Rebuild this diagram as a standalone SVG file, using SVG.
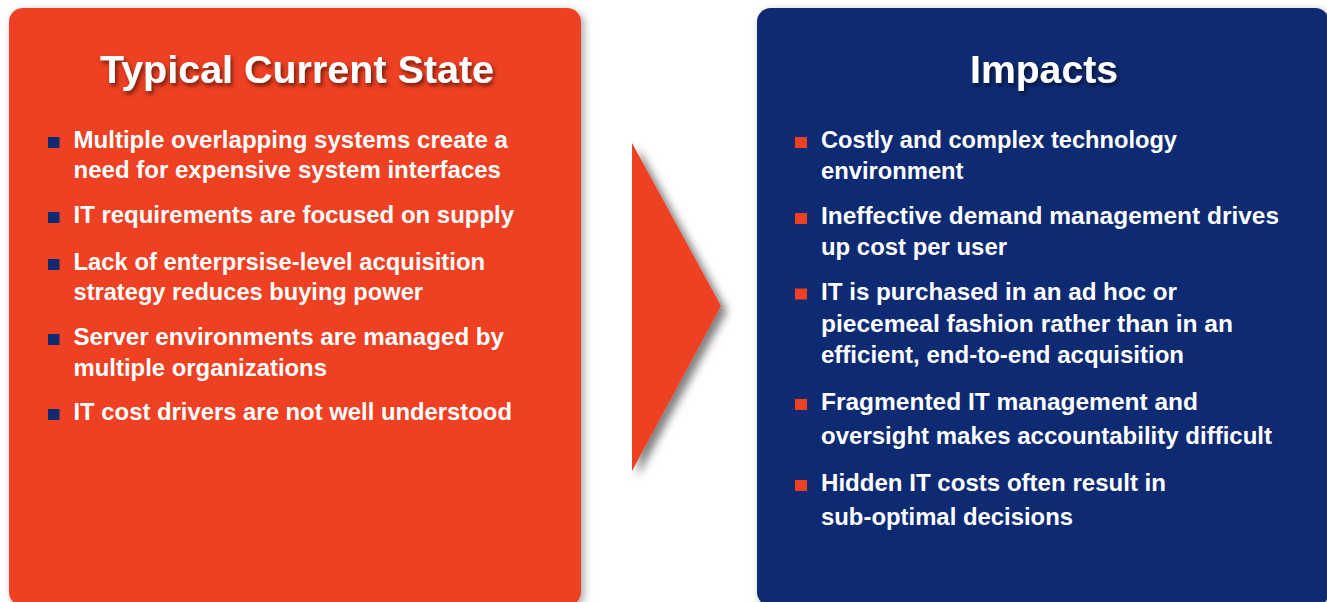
<svg xmlns="http://www.w3.org/2000/svg" width="1327" height="602" viewBox="0 0 1327 602">
<defs>
<filter id="boxShadow" x="-10%" y="-10%" width="120%" height="120%">
<feDropShadow dx="3" dy="3" stdDeviation="4" flood-color="#000" flood-opacity="0.35"/>
</filter>
<filter id="arrowShadow" x="-30%" y="-20%" width="160%" height="140%">
<feDropShadow dx="6" dy="5" stdDeviation="4" flood-color="#000" flood-opacity="0.5"/>
</filter>
<filter id="titleShadow" x="-10%" y="-30%" width="120%" height="160%">
<feDropShadow dx="2" dy="3" stdDeviation="2.2" flood-color="#000" flood-opacity="0.55"/>
</filter>
</defs>
<style>
.title{font-family:"Liberation Sans",Arial,sans-serif;font-weight:bold;font-size:38px;fill:#fff;filter:url(#titleShadow)}
.txt{font-family:"Liberation Sans",Arial,sans-serif;font-weight:bold;font-size:24px;fill:#fff}
.orange{fill:#EE4023}
.navy{fill:#0F2A73}
.bl{fill:#0F2A73}
.br{fill:#EE4023}
</style>
<rect width="1327" height="602" fill="#fff"/>

<g id="current-state">
<rect class="orange" x="9" y="8" width="572" height="598" rx="14" filter="url(#boxShadow)"/>
<text class="title" x="100" y="83" textLength="394" lengthAdjust="spacingAndGlyphs">Typical Current State</text>
<rect class="bl" x="48" y="137" width="11.5" height="11"/>
<text class="txt" x="73.5" y="148" textLength="434.5" lengthAdjust="spacingAndGlyphs">Multiple overlapping systems create a</text>
<text class="txt" x="73.5" y="178" textLength="427.5" lengthAdjust="spacingAndGlyphs">need for expensive system interfaces</text>
<rect class="bl" x="48" y="212" width="11.5" height="11"/>
<text class="txt" x="73.5" y="223" textLength="440.5" lengthAdjust="spacingAndGlyphs">IT requirements are focused on supply</text>
<rect class="bl" x="48" y="259" width="11.5" height="11"/>
<text class="txt" x="73.5" y="270" textLength="411.5" lengthAdjust="spacingAndGlyphs">Lack of enterprsise-level acquisition</text>
<text class="txt" x="73.5" y="300" textLength="349.5" lengthAdjust="spacingAndGlyphs">strategy reduces buying power</text>
<rect class="bl" x="48" y="334" width="11.5" height="11"/>
<text class="txt" x="73.5" y="345" textLength="430.5" lengthAdjust="spacingAndGlyphs">Server environments are managed by</text>
<text class="txt" x="73.5" y="376" textLength="253.5" lengthAdjust="spacingAndGlyphs">multiple organizations</text>
<rect class="bl" x="48" y="409" width="11.5" height="11"/>
<text class="txt" x="73.5" y="420" textLength="438.5" lengthAdjust="spacingAndGlyphs">IT cost drivers are not well understood</text>
</g>

<g id="connectors">
<polygon class="orange" points="632,143 721,306 632,471" filter="url(#arrowShadow)"/>
</g>

<g id="impacts">
<rect class="navy" x="757" y="8" width="572" height="598" rx="14" filter="url(#boxShadow)"/>
<text class="title" x="970" y="83" textLength="148" lengthAdjust="spacingAndGlyphs">Impacts</text>
<rect class="br" x="795" y="137" width="12" height="11"/>
<text class="txt" x="821" y="148" textLength="356" lengthAdjust="spacingAndGlyphs">Costly and complex technology</text>
<text class="txt" x="821" y="179" textLength="142.5" lengthAdjust="spacingAndGlyphs">environment</text>
<rect class="br" x="795" y="213" width="12" height="11"/>
<text class="txt" x="821" y="224" textLength="458" lengthAdjust="spacingAndGlyphs">Ineffective demand management drives</text>
<text class="txt" x="821" y="255" textLength="186" lengthAdjust="spacingAndGlyphs">up cost per user</text>
<rect class="br" x="795" y="288.5" width="12" height="11"/>
<text class="txt" x="821" y="299.5" textLength="356" lengthAdjust="spacingAndGlyphs">IT is purchased in an ad hoc or</text>
<text class="txt" x="821" y="331.5" textLength="412" lengthAdjust="spacingAndGlyphs">piecemeal fashion rather than in an</text>
<text class="txt" x="821" y="362.5" textLength="363" lengthAdjust="spacingAndGlyphs">efficient, end-to-end acquisition</text>
<rect class="br" x="795" y="399" width="12" height="11"/>
<text class="txt" x="821" y="410" textLength="377" lengthAdjust="spacingAndGlyphs">Fragmented IT management and</text>
<text class="txt" x="821" y="443.5" textLength="451" lengthAdjust="spacingAndGlyphs">oversight makes accountability difficult</text>
<rect class="br" x="795" y="480" width="12" height="11"/>
<text class="txt" x="821" y="490.5" textLength="345" lengthAdjust="spacingAndGlyphs">Hidden IT costs often result in</text>
<text class="txt" x="821" y="525" textLength="252" lengthAdjust="spacingAndGlyphs">sub-optimal decisions</text>
</g>
</svg>
